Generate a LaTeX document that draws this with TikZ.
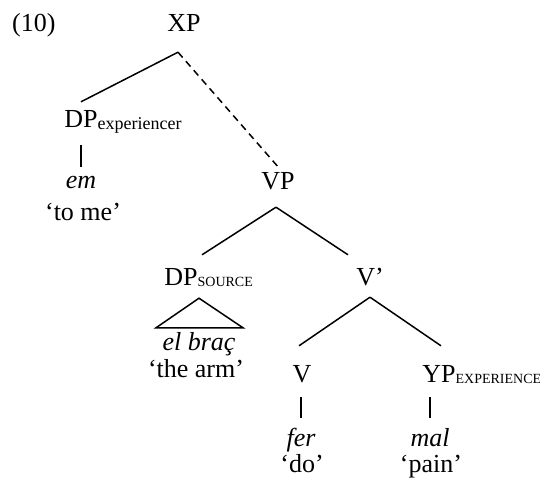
\documentclass[tikz,border=0pt]{standalone}
\usepackage{fontspec}
\setmainfont{Liberation Serif}
\usetikzlibrary{calc}

\newcommand{\lowsub}[2][18bp]{\rlap{\raisebox{-1.5bp}{\fontsize{#1}{#1}\selectfont #2}}}

\begin{document}
\begin{tikzpicture}[
    x=1bp, y=-1bp,
    font=\fontsize{26bp}{30bp}\selectfont,
    cat/.style={anchor=base, inner sep=0pt, text height=17bp, text depth=0pt},
    word/.style={cat, font=\fontsize{26bp}{30bp}\selectfont\itshape},
    branch/.style={line width=1.5bp},
    dashbranch/.style={branch, dash pattern=on 7bp off 5bp}
]
    \useasboundingbox (0,0) rectangle (540,484);

    \node[cat, anchor=base west] (ex) at (12,32) {(10)};
    \node[cat] (XP) at (184,32) {XP};
    \node[cat] (DPe) at (81,128) {DP\lowsub{experiencer}};
    \node[word] (em) at (81,189) {em};
    \node[cat] (tome) at (83,220) {‘to me’};
    \node[cat] (VP) at (278,190) {VP};
    \node[cat] (DPs) at (181,285) {DP\lowsub[14bp]{SOURCE}};
    \node[cat] (Vbar) at (370,285) {V’};
    \node[word] (braz) at (199,350) {el braç};
    \node[cat] (arm) at (196,377) {‘the arm’};
    \node[cat] (V) at (302,382) {V};
    \node[cat] (YP) at (439,382) {YP\lowsub[14bp]{EXPERIENCE}};
    \node[word] (fer) at (301,446) {fer};
    \node[word] (mal) at (430,446) {mal};
    \node[cat] (do) at (302,472) {‘do’};
    \node[cat] (pain) at (431,472) {‘pain’};

    % XP
    \draw[branch] ([xshift=-6bp,yshift=-20bp]XP.south) -- ([yshift=9bp]DPe.north);
    \draw[dashbranch] ([xshift=-6bp,yshift=-20bp]XP.south) -- ([yshift=6bp]VP.north);
    \draw[branch] ($(em.north |- DPe.south)+(0,17)$) -- ([yshift=5bp]em.north);

    % VP
    \draw[branch] ([xshift=-2bp,yshift=-17bp]VP.south) -- ([xshift=21bp,yshift=13bp]DPs.north);
    \draw[branch] ([xshift=-2bp,yshift=-17bp]VP.south) -- ([xshift=-22bp,yshift=13bp]Vbar.north);
    \draw[branch] ([xshift=18bp,yshift=-13bp]DPs.south)
        -- ([xshift=-43bp,yshift=5bp]braz.north)
        -- ([xshift=44bp,yshift=5bp]braz.north) -- cycle;

    % V'
    \draw[branch] ([yshift=-12bp]Vbar.south) -- ([xshift=-3bp,yshift=19bp]V.north);
    \draw[branch] ([yshift=-12bp]Vbar.south) -- ([xshift=2bp,yshift=19bp]YP.north);
    \draw[branch] ($(fer.north |- V.south)+(0,15)$) -- ([yshift=11bp]fer.north);
    \draw[branch] ($(mal.north |- YP.south)+(0,15)$) -- ([yshift=11bp]mal.north);
\end{tikzpicture}
\end{document}
